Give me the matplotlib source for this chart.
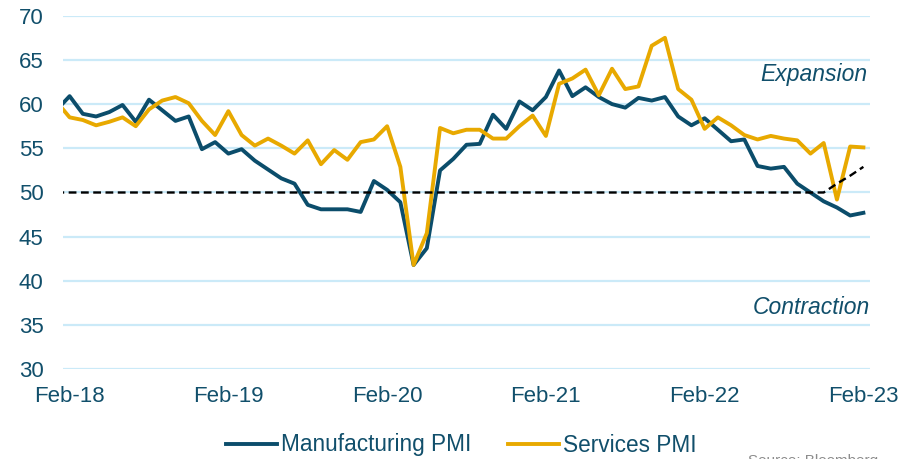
import numpy as np
import matplotlib.pyplot as plt

plt.rcParams['font.family'] = ['Liberation Sans', 'DejaVu Sans']

# monthly readings, Jan-18 .. Feb-23 (Jan-18 sits half outside the plot)
manufacturing = [
    59.3, 60.9, 58.9, 58.6, 59.1, 59.9, 58.0, 60.5, 59.3, 58.1, 58.6, 54.9,
    55.7, 54.4, 54.9, 53.6, 52.6, 51.6, 51.0, 48.6, 48.1, 48.1, 48.1, 47.8,
    51.3, 50.3, 48.9, 41.8, 43.7, 52.5, 53.8, 55.4, 55.5, 58.8, 57.2, 60.3,
    59.3, 60.8, 63.8, 60.9, 61.9, 60.8, 60.0, 59.6, 60.7, 60.4, 60.8, 58.6,
    57.6, 58.4, 57.1, 55.8, 56.0, 53.0, 52.7, 52.9, 51.0, 50.0, 49.0, 48.3,
    47.4, 47.7,
]
services = [
    60.3, 58.5, 58.2, 57.6, 58.0, 58.5, 57.5, 59.4, 60.4, 60.8, 60.1, 58.1,
    56.5, 59.2, 56.5, 55.3, 56.1, 55.3, 54.4, 55.9, 53.2, 54.8, 53.7, 55.7,
    56.0, 57.5, 52.9, 41.8, 45.4, 57.3, 56.7, 57.1, 57.1, 56.1, 56.1, 57.5,
    58.7, 56.4, 62.3, 62.9, 63.9, 61.0, 64.0, 61.7, 62.0, 66.6, 67.5, 61.7,
    60.5, 57.2, 58.5, 57.6, 56.5, 56.0, 56.4, 56.1, 55.9, 54.4, 55.6, 49.2,
    55.2, 55.1,
]
threshold = [50.0] * 59 + [51.0, 51.9, 52.9]

tick_labels = ["Feb-18", "Feb-19", "Feb-20", "Feb-21", "Feb-22", "Feb-23"]
tick_pos = [0, 12, 24, 36, 48, 60]

blue = "#0B4D6B"
gold = "#E8A900"
text_col = "#114F6B"

x = np.arange(len(manufacturing)) - 1  # Feb-18 -> 0

fig = plt.figure(figsize=(9.21, 4.59), dpi=100)
ax = fig.add_axes([63/921, 1 - 369.3/459, (870-63)/921, (369.3-15.7)/459])

ax.plot(x, manufacturing, color=blue, lw=2.8, label="Manufacturing PMI", zorder=3)
ax.plot(x, services, color=gold, lw=2.8, label="Services PMI", zorder=4)
ax.plot(x, threshold, color="black", lw=1.7, dashes=(3.3, 1.9), zorder=5)

ax.set_xlim(-0.5, 60.5)
ax.set_ylim(30, 70)
ax.set_yticks(range(30, 71, 5))
ax.set_xticks(tick_pos)
ax.set_xticklabels(tick_labels)
ax.grid(axis='y', color="#CBEAF8", lw=1.6, zorder=0)
ax.set_axisbelow(True)
for s in ax.spines.values():
    s.set_visible(False)
ax.tick_params(axis='both', length=0, labelsize=16, labelcolor=text_col)
ax.tick_params(axis='x', pad=12)
ax.tick_params(axis='y', pad=14)

ax.text(60.3, 63.4, "Expansion", style='italic', fontsize=16.5, color=text_col,
        ha='right', va='center')
ax.text(60.5, 37.0, "Contraction", style='italic', fontsize=16.5, color=text_col,
        ha='right', va='center')

handles, labels = ax.get_legend_handles_labels()
leg = fig.legend(handles, labels, loc='center left', bbox_to_anchor=(210/921, 1 - 445/459),
                 ncol=2, frameon=False, fontsize=16.3, handlelength=2.25,
                 handletextpad=0.2, columnspacing=1.6, borderpad=0.2)
for t in leg.get_texts():
    t.set_color(text_col)

fig.text(748/921, 1 - 454/459, "Source: Bloomberg", fontsize=11, color="#8C8C8C", va='top')

plt.savefig("out.png", dpi=100)
